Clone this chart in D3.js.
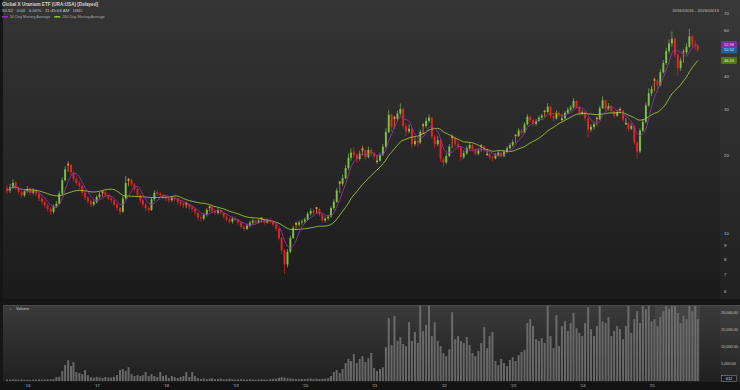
<!DOCTYPE html>
<html>
<head>
<meta charset="utf-8">
<script src="https://cdn.jsdelivr.net/npm/d3@7"></script>
<style>
  html, body { margin: 0; padding: 0; background: #161616; }
  svg { display: block; font-family: "Liberation Sans", Arial, sans-serif; }
</style>
</head>
<body>
<svg id="chart" width="740" height="390"></svg>
<script>
// half-month bars, 2016-03-16 .. 2026-03-01 (one row per year)
const opens = [
  14.9,14.6,15.0,15.7,14.9,14.4,14.0,14.5,14.9,14.3,14.6,14.2,13.6,13.2,12.8,12.4,12.1,12.7,13.0,
  14.2,16.0,18.5,18.3,17.1,16.2,15.6,15.2,14.3,13.7,13.3,12.9,13.2,13.8,14.5,14.4,14.0,13.6,13.4,12.9,12.5,12.1,13.6,16.2,
  16.0,15.4,14.8,14.0,13.4,12.9,12.5,12.3,13.5,14.4,14.2,14.0,13.8,13.6,13.4,13.7,13.6,13.2,13.0,13.1,12.9,12.6,12.4,12.0,
  11.5,11.4,11.8,12.7,12.6,12.2,12.0,12.3,12.0,11.6,11.3,11.1,11.4,11.3,11.0,10.6,10.4,10.7,11.0,11.2,11.0,11.5,11.3,11.0,
  11.2,11.1,10.8,10.4,9.6,8.6,7.6,8.5,9.6,11.0,10.8,11.0,11.1,11.3,11.9,12.2,12.6,12.4,11.8,11.2,11.4,11.6,12.5,13.2,
  15.8,15.5,16.3,17.8,19.5,20.6,20.0,19.3,21.2,20.8,19.6,20.9,20.3,18.8,19.0,20.0,21.5,24.5,28.5,28.0,27.5,28.8,30.0,25.8,
  24.6,25.2,22.0,22.6,22.3,26.2,25.8,27.0,27.8,23.5,22.0,22.8,19.3,18.7,19.8,23.6,23.2,22.0,21.4,19.6,20.3,21.2,21.8,21.0,
  20.2,21.8,21.5,20.0,20.2,19.6,19.4,19.9,20.4,19.8,20.6,21.2,21.8,23.9,23.6,24.8,24.3,26.2,28.0,27.2,26.3,27.0,27.8,29.5,
  29.2,30.6,28.2,27.6,29.0,27.2,27.6,29.0,29.8,30.4,32.2,30.6,28.8,29.2,27.6,25.0,25.6,27.8,27.4,30.2,32.4,30.0,30.8,29.4,
  28.3,30.0,29.6,26.2,26.5,25.2,25.8,22.3,20.6,24.8,26.8,31.0,34.5,39.0,38.5,37.0,41.5,45.0,50.0,53.5,55.8,48.5,43.0,50.0,
  49.5,52.0,57.0,53.0,52.4
];
const highs = [
  15.3,15.5,16.1,15.9,15.1,14.6,14.8,15.2,15.0,14.9,14.8,14.3,13.8,13.4,13.0,12.6,12.9,13.3,14.5,
  16.4,18.1,18.9,18.5,17.3,16.5,15.9,15.3,14.5,13.9,13.5,13.4,14.0,14.4,14.6,14.6,14.2,13.9,13.5,13.1,12.7,13.9,16.6,16.3,
  16.2,15.6,15.0,14.2,13.6,13.1,12.7,13.7,14.6,14.7,14.4,14.2,14.0,13.8,13.9,13.9,13.7,13.4,13.2,13.2,13.0,12.8,12.5,12.1,
  11.8,12.0,12.5,12.8,12.7,12.4,12.5,12.4,12.1,11.8,11.5,11.6,11.6,11.4,11.1,10.8,10.9,11.2,11.4,11.3,11.4,11.5,11.4,11.4,
  11.5,11.2,10.9,10.5,9.7,8.7,8.7,9.8,10.7,11.0,11.2,11.3,11.5,12.1,12.5,12.4,12.6,12.5,11.9,11.6,11.8,12.7,13.5,14.9,
  15.9,16.8,18.3,20.3,21.2,21.4,20.3,20.8,21.6,21.0,21.5,21.2,20.5,19.9,20.4,22.0,25.3,29.8,28.8,28.2,29.6,31.5,30.3,26.4,
  26.2,25.4,23.4,23.2,25.0,26.5,27.8,28.6,28.0,23.8,23.6,23.0,19.6,20.3,22.0,23.9,23.5,22.6,21.6,20.8,21.7,22.4,22.1,21.2,
  21.2,22.0,21.8,21.1,20.4,19.9,20.3,20.8,20.6,20.9,21.6,22.2,22.9,24.0,25.3,25.2,26.7,28.6,28.4,27.5,27.5,28.3,28.8,29.8,
  31.6,30.9,28.7,29.6,29.4,28.7,29.5,30.4,31.0,33.0,32.5,30.9,29.8,29.5,27.8,26.2,26.8,28.0,30.8,33.5,32.6,31.6,31.0,29.7,
  29.8,30.4,29.8,27.7,26.8,26.4,26.0,22.6,25.3,27.4,31.8,36.0,36.8,39.6,39.0,42.6,46.2,51.5,55.5,59.5,56.5,49.2,47.2,50.8,
  53.6,61.0,57.6,55.0,53.2
];
const lows = [
  14.2,14.3,14.8,14.6,14.1,13.7,13.8,14.3,14.0,14.1,13.9,13.3,12.9,12.5,12.1,11.8,11.9,12.5,12.9,
  14.0,15.8,17.2,16.7,15.8,15.3,14.8,14.0,13.4,13.0,12.6,12.7,13.0,13.6,13.8,13.8,13.4,13.1,12.7,12.2,11.8,12.0,13.5,15.2,
  15.1,14.5,13.7,13.1,12.6,12.2,12.0,12.2,13.3,13.9,13.7,13.5,13.3,13.1,13.2,13.3,12.9,12.7,12.5,12.5,12.3,12.1,11.7,11.2,
  11.1,11.2,11.6,12.1,12.0,11.8,11.8,11.8,11.4,11.1,10.9,10.9,11.1,10.8,10.4,10.2,10.3,10.5,10.8,10.8,10.9,11.0,10.8,10.9,
  10.9,10.6,10.2,9.4,8.3,7.0,7.4,8.4,9.5,10.3,10.6,10.8,10.9,11.2,11.7,11.8,11.9,11.6,11.0,11.0,11.2,11.5,12.3,13.1,
  14.3,15.2,16.1,17.5,19.0,19.4,18.6,19.0,19.9,19.1,19.4,19.8,19.2,18.5,18.8,19.8,21.3,24.2,24.6,25.2,27.0,28.3,25.2,23.6,
  24.2,21.2,21.6,21.5,22.0,24.0,25.4,26.5,23.0,21.2,21.6,18.8,18.0,18.4,19.6,21.2,21.5,20.9,19.0,19.3,20.0,20.9,20.6,19.8,
  19.9,20.6,20.5,19.8,19.2,18.9,19.2,19.7,19.5,19.6,20.4,21.0,21.5,22.2,23.4,23.8,24.1,25.9,26.7,25.7,25.9,26.7,27.4,28.0,
  29.0,27.6,26.9,27.3,27.9,27.0,27.3,28.7,29.4,30.1,30.1,28.3,28.4,27.0,23.4,24.5,25.0,25.9,27.2,30.0,29.4,29.6,29.0,27.7,
  28.0,28.8,26.8,26.0,24.6,24.9,21.8,19.3,20.3,24.5,26.5,30.6,33.6,35.2,36.0,36.6,41.0,44.3,49.0,52.0,47.0,40.2,42.0,45.2,
  48.6,51.4,51.8,50.6,49.6
];
const closes = [
  14.6,15.0,15.6,14.9,14.4,14.0,14.5,14.8,14.3,14.6,14.2,13.6,13.2,12.8,12.4,12.1,12.7,13.0,14.2,
  16.0,17.6,18.2,17.1,16.2,15.6,15.2,14.3,13.7,13.3,12.9,13.2,13.8,14.1,14.3,14.0,13.6,13.4,12.9,12.5,12.1,13.6,15.6,15.9,
  15.4,14.8,14.0,13.4,12.9,12.5,12.3,13.5,14.3,14.2,14.0,13.8,13.6,13.4,13.7,13.6,13.2,13.0,12.8,12.9,12.6,12.4,12.0,11.5,
  11.4,11.8,12.3,12.5,12.2,12.0,12.3,12.0,11.6,11.3,11.1,11.4,11.3,11.0,10.6,10.4,10.7,11.0,11.2,11.0,11.2,11.3,11.0,11.2,
  11.1,10.8,10.4,9.6,8.6,7.6,8.5,9.6,10.5,10.8,11.0,11.1,11.3,11.9,12.2,12.0,12.4,11.8,11.2,11.4,11.6,12.5,13.2,14.6,
  15.5,16.3,17.8,19.5,20.4,20.0,19.3,20.2,20.8,19.6,20.9,20.3,19.7,19.0,20.0,21.5,24.5,28.5,25.5,27.5,28.8,30.0,25.8,24.6,
  25.2,22.0,22.6,22.3,24.5,25.8,27.0,27.8,23.5,22.0,22.8,19.3,18.7,19.8,21.5,23.2,22.0,21.4,19.6,20.3,21.2,21.8,21.0,20.2,
  20.8,21.5,20.9,20.2,19.6,19.4,19.9,20.4,19.8,20.6,21.2,21.8,22.4,23.6,24.8,24.3,26.2,28.0,27.2,26.3,27.0,27.8,28.3,29.2,
  30.6,28.2,27.6,29.0,28.4,27.6,29.0,29.8,30.4,32.2,30.6,28.8,29.2,27.6,25.0,25.6,26.2,27.4,30.2,32.4,30.0,30.8,29.4,28.3,
  29.2,29.6,27.3,26.5,25.2,25.8,22.3,20.6,24.8,26.8,31.0,34.5,35.8,38.5,37.0,41.5,45.0,50.0,53.5,55.8,48.5,43.0,46.0,49.5,
  52.0,57.0,53.0,52.4,50.52
];
// volume, thousands of shares
const volumes = [
  420,380,510,450,360,400,330,370,350,420,390,460,380,430,500,470,540,1150,1250,
  2900,4600,6000,4300,5500,2600,2300,2000,3200,1700,1100,950,1200,1000,900,1150,1050,980,1200,1700,3200,3500,2900,4000,
  2000,1450,1700,1450,1700,2600,1450,2000,1450,1150,2600,1450,1700,870,1450,1150,870,1150,1450,2600,1150,2600,1450,870,
  600,750,520,680,800,560,620,700,480,540,650,500,420,480,560,450,400,520,470,380,430,500,460,390,
  520,610,700,900,1100,1000,820,700,640,580,520,600,560,650,720,600,680,560,620,700,870,1450,2600,3200,
  2300,3500,5200,6400,5800,7800,5200,6400,7200,5500,6600,8100,3800,2900,3500,4000,9800,18200,10400,18800,11600,12700,10700,10100,
  17000,11600,14200,11000,24500,14500,16200,23800,13000,17000,11600,10100,8100,7200,9200,19900,12100,13000,11600,11000,12700,10400,8100,7200,
  8700,11000,15600,9500,13000,14200,5800,4600,6400,5200,4300,6100,6900,5800,7500,8400,9000,16800,17900,15900,12100,11600,12400,11000,
  25500,13000,9500,19100,10100,15900,17300,14500,16800,19700,15300,13900,13000,16800,21400,15000,13000,15900,24000,17300,16800,18500,13000,14500,
  15900,15000,12100,15900,23500,13900,17900,20200,16800,23000,20800,26000,17300,17900,15900,18500,20200,25000,20800,27000,24500,19700,16800,18800,
  17900,26500,20200,24000,17900
];
const currentVolume = 612;

const priceTicks = [6, 7, 8, 9, 10, 20, 30, 40, 60, 70];
const volumeTicks = [5000, 10000, 15000, 20000];
const labelYears = [2016, 2017, 2018, 2019, 2020, 2021, 2022, 2023, 2024, 2025];

const title = "Global X Uranium ETF (URA:USA) [Delayed]";
const quoteLine = "50.52   0.00   0.00%   11:45:04 AM   USD";
const rangeText = "2016/03/16 - 2026/03/13";

const W = 740, H = 390;
const plotRight = 720;
const pricePanel = { top: 0, bottom: 299 };
const volPanel = { top: 305, bottom: 381 };
const FONT = '"Liberation Sans", Arial, sans-serif';

const n = Math.min(opens.length, highs.length, lows.length, closes.length, volumes.length);
const bars = d3.range(n).map(i => ({
  date: new Date(2016, 2 + Math.floor((i + 1) / 2), i % 2 === 0 ? 16 : 1),
  o: opens[i], h: highs[i], l: lows[i], c: closes[i], v: volumes[i],
  pc: i > 0 ? closes[i - 1] : opens[i]
}));

function movingAvg(vals, len) {
  return vals.map((_, i) => d3.mean(vals.slice(Math.max(0, i - len + 1), i + 1)));
}
const closeVals = bars.map(d => d.c);
const ma50 = movingAvg(closeVals, 5);   // ~50 trading days
const ma200 = movingAvg(closeVals, 19); // ~200 trading days

const x = d3.scaleTime()
  .domain([new Date(2016, 2, 16), new Date(2026, 2, 13)])
  .range([7, 700]);
const y = d3.scaleLog().domain([5.6, 73.2]).range([pricePanel.bottom, 8]);
const yVol = d3.scaleLinear().domain([0, 22000]).range([volPanel.bottom, volPanel.top]);

const svg = d3.select('#chart');
const defs = svg.append('defs');

function vGrad(id, c0, c1) {
  const g = defs.append('linearGradient').attr('id', id)
    .attr('x1', 0).attr('y1', 0).attr('x2', 0).attr('y2', 1);
  g.append('stop').attr('offset', '0%').attr('stop-color', c0);
  g.append('stop').attr('offset', '100%').attr('stop-color', c1);
}
vGrad('priceBg', '#353535', '#1b1b1b');
vGrad('volBg', '#3b3b3b', '#1f1f1f');

defs.append('clipPath').attr('id', 'priceClip').append('rect')
  .attr('x', 3).attr('y', pricePanel.top).attr('width', plotRight - 3).attr('height', pricePanel.bottom - pricePanel.top);
defs.append('clipPath').attr('id', 'volClip').append('rect')
  .attr('x', 3).attr('y', volPanel.top + 1).attr('width', plotRight - 3).attr('height', volPanel.bottom - volPanel.top - 1);

// backgrounds
svg.append('rect').attr('width', W).attr('height', H).attr('fill', '#161616');
svg.append('rect').attr('x', 3).attr('y', pricePanel.top).attr('width', W - 3)
  .attr('height', pricePanel.bottom - pricePanel.top).attr('fill', 'url(#priceBg)');
svg.append('rect').attr('x', plotRight).attr('y', pricePanel.top).attr('width', W - plotRight)
  .attr('height', pricePanel.bottom - pricePanel.top).attr('fill', '#fff').attr('opacity', 0.025);
svg.append('rect').attr('x', 3).attr('y', volPanel.top).attr('width', W - 3)
  .attr('height', volPanel.bottom - volPanel.top + 1).attr('fill', 'url(#volBg)');
svg.append('rect').attr('x', plotRight).attr('y', volPanel.top).attr('width', W - plotRight)
  .attr('height', volPanel.bottom - volPanel.top + 1).attr('fill', '#fff').attr('opacity', 0.025);
svg.append('line').attr('x1', 3).attr('x2', W).attr('y1', volPanel.top + 0.5).attr('y2', volPanel.top + 0.5)
  .attr('stroke', '#4c4c4c').attr('stroke-width', 1);
svg.append('rect').attr('x', 0).attr('y', volPanel.bottom + 1).attr('width', W).attr('height', H - volPanel.bottom - 1)
  .attr('fill', '#131313');

// candles
function candleColor(d) {
  if (d.c >= d.o) return d.c >= d.pc ? '#7cc243' : '#c3b84a';
  return d.c >= d.pc ? '#f0932c' : '#e8231f';
}
const candleW = 1.9;
const priceG = svg.append('g').attr('clip-path', 'url(#priceClip)');
const candles = priceG.selectAll('g.candle').data(bars).enter().append('g').attr('class', 'candle');
candles.append('line')
  .attr('x1', d => x(d.date)).attr('x2', d => x(d.date))
  .attr('y1', d => y(d.h)).attr('y2', d => y(d.l))
  .attr('stroke', candleColor).attr('stroke-width', 0.7);
candles.append('rect')
  .attr('x', d => x(d.date) - candleW / 2)
  .attr('y', d => y(Math.max(d.o, d.c)))
  .attr('width', candleW)
  .attr('height', d => Math.max(0.8, Math.abs(y(d.o) - y(d.c))))
  .attr('fill', candleColor);

// moving averages
const maLine = vals => d3.line()
  .x((d, i) => x(bars[i].date))
  .y(d => y(d))
  .curve(d3.curveMonotoneX)(vals);
priceG.append('path').attr('d', maLine(ma200)).attr('fill', 'none')
  .attr('stroke', '#9cc33c').attr('stroke-width', 0.9);
priceG.append('path').attr('d', maLine(ma50)).attr('fill', 'none')
  .attr('stroke', '#9b2fb0').attr('stroke-width', 0.9);

// price axis
const yAxis = svg.append('g').attr('transform', `translate(${plotRight + 3},0)`)
  .call(d3.axisRight(y).tickValues(priceTicks).tickFormat(d3.format('d')).tickSize(0).tickPadding(1));
yAxis.select('.domain').remove();
yAxis.selectAll('text').attr('fill', '#c4c4c4').attr('font-size', '4.3px').attr('font-family', FONT);

// last value boxes
const last = n - 1;
const lastBoxes = [
  { v: ma50[last], fill: '#86239f', text: '#f0d8f6' },
  { v: closes[last], fill: '#1d5f9e', text: '#d8ecff' },
  { v: ma200[last], fill: '#4b7a12', text: '#eaf6cf' }
];
const boxG = svg.append('g');
lastBoxes.forEach(b => {
  const cy = y(b.v);
  boxG.append('rect').attr('x', 721.5).attr('y', cy - 3).attr('width', 15).attr('height', 6)
    .attr('fill', b.fill).attr('stroke', d3.color(b.fill).brighter(0.8)).attr('stroke-width', 0.4);
  boxG.append('text').attr('x', 729).attr('y', cy + 1.4).attr('text-anchor', 'middle')
    .attr('font-size', '4px').attr('fill', b.text).text(d3.format('.2f')(b.v));
});

// volume
const volG = svg.append('g').attr('clip-path', 'url(#volClip)');
volG.append('rect').attr('x', x(new Date(2025, 6, 20))).attr('y', volPanel.top)
  .attr('width', x(new Date(2026, 2, 13)) - x(new Date(2025, 6, 20)))
  .attr('height', volPanel.bottom - volPanel.top).attr('fill', '#fff').attr('opacity', 0.06);
volG.selectAll('rect.vol').data(bars).enter().append('rect').attr('class', 'vol')
  .attr('x', d => x(d.date) - 1)
  .attr('y', d => yVol(d.v))
  .attr('width', 2)
  .attr('height', d => volPanel.bottom - yVol(d.v))
  .attr('fill', '#747474').attr('opacity', 0.85);

const vAxis = svg.append('g').attr('transform', `translate(${plotRight + 1},0)`)
  .call(d3.axisRight(yVol).tickValues(volumeTicks).tickFormat(d3.format(',.2f')).tickSize(0).tickPadding(0));
vAxis.select('.domain').remove();
vAxis.selectAll('text').attr('fill', '#c4c4c4').attr('font-size', '3.8px').attr('font-family', FONT);

const cvY = yVol(currentVolume);
svg.append('rect').attr('x', 721.5).attr('y', cvY - 3.5).attr('width', 15).attr('height', 6)
  .attr('fill', '#1a1a1a').attr('stroke', '#b8b8b8').attr('stroke-width', 0.4);
svg.append('text').attr('x', 729).attr('y', cvY + 1).attr('text-anchor', 'middle')
  .attr('font-size', '4px').attr('fill', '#dcdcdc').text(d3.format(',.0f')(currentVolume));

svg.append('text').attr('x', 10).attr('y', 310).attr('font-size', '4px').attr('fill', '#9a9a9a').text('i');
svg.append('text').attr('x', 16).attr('y', 310).attr('font-size', '4px').attr('fill', '#c8c8c8').text('Volume');

// time axis, labels centred in each year
const xAxis = svg.append('g').attr('transform', `translate(0,${volPanel.bottom + 1})`)
  .call(d3.axisBottom(x)
    .tickValues(labelYears.map(yr => new Date(yr, 6, 1)))
    .tickFormat(d3.timeFormat("'%y")).tickSize(0).tickPadding(2));
xAxis.select('.domain').remove();
xAxis.selectAll('text').attr('fill', '#b4b4b4').attr('font-size', '4.3px').attr('font-family', FONT);

// header
svg.append('text').attr('x', 2).attr('y', 6).attr('font-size', '4.6px').attr('font-weight', 'bold')
  .attr('fill', '#d4d4d4').text(title);
svg.append('text').attr('x', 2).attr('y', 11.8).attr('font-size', '4.4px').attr('fill', '#c8c8c8')
  .attr('xml:space', 'preserve').style('white-space', 'pre').text(quoteLine);
svg.append('text').attr('x', 719).attr('y', 11.5).attr('text-anchor', 'end').attr('font-size', '4.3px')
  .attr('fill', '#c4c4c4').text(rangeText);

const legend = [
  { label: '50 Day Moving Average', color: '#9b2fb0' },
  { label: '200 Day Moving Average', color: '#8fbf3a' }
];
let lx = 2;
legend.forEach(item => {
  svg.append('rect').attr('x', lx).attr('y', 16).attr('width', 6).attr('height', 1.6).attr('fill', item.color);
  const t = svg.append('text').attr('x', lx + 8).attr('y', 18.2).attr('font-size', '3.8px')
    .attr('fill', '#a8a8a8').text(item.label);
  lx += 8 + t.node().getComputedTextLength() + 4;
});
</script>
</body>
</html>
